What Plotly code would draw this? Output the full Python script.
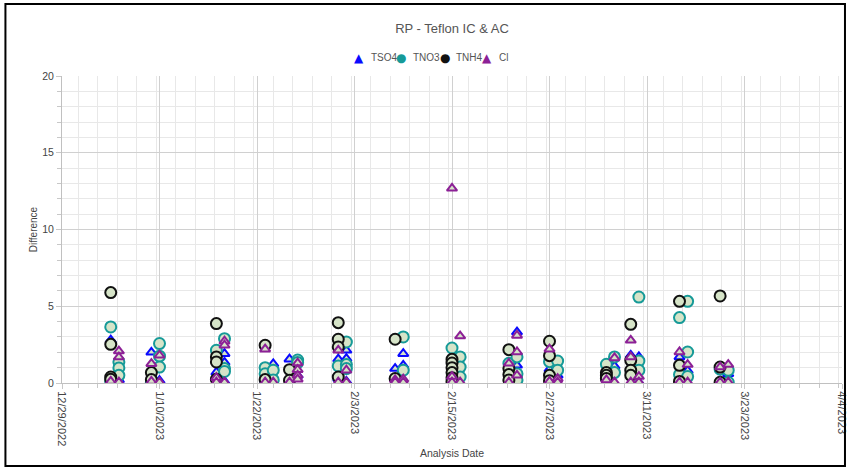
import plotly.graph_objects as go

# ---------------- data ----------------
tso4_dates = ["2023-01-04", "2023-01-04", "2023-01-05", "2023-01-05", "2023-01-09", "2023-01-09",
              "2023-01-10", "2023-01-17", "2023-01-17", "2023-01-18", "2023-01-18", "2023-01-18",
              "2023-01-23", "2023-01-24", "2023-01-24", "2023-01-26", "2023-01-26", "2023-01-27",
              "2023-02-01", "2023-02-01", "2023-02-02", "2023-02-02", "2023-02-02", "2023-02-08",
              "2023-02-09", "2023-02-09", "2023-02-15", "2023-02-16", "2023-02-22", "2023-02-23",
              "2023-02-23", "2023-02-27", "2023-02-28", "2023-03-06", "2023-03-07", "2023-03-09",
              "2023-03-10", "2023-03-10", "2023-03-15", "2023-03-16", "2023-03-20", "2023-03-21"]
tso4_vals = [2.8, 0.1, 1.5, 0.2, 2.0, 0.1,
             0.15, 0.7, 0.3, 1.91, 1.34, 0.1,
             0.2, 1.25, 0.1, 1.55, 0.1, 0.5,
             1.55, 0.3, 2.13, 1.59, 0.1, 0.94,
             1.91, 1.15, 0.3, 0.6, 0.3, 3.32,
             1.15, 0.9, 0.5, 0.3, 1.1, 1.8,
             1.7, 0.05, 1.7, 0.8, 0.1, 0.6]

tno3_dates = ["2023-01-04", "2023-01-04", "2023-01-05", "2023-01-05", "2023-01-05", "2023-01-09",
              "2023-01-10", "2023-01-10", "2023-01-10", "2023-01-17", "2023-01-18", "2023-01-18",
              "2023-01-18", "2023-01-23", "2023-01-23", "2023-01-24", "2023-01-24", "2023-01-27",
              "2023-01-27", "2023-02-01", "2023-02-02", "2023-02-02", "2023-02-02", "2023-02-09",
              "2023-02-09", "2023-02-15", "2023-02-16", "2023-02-16", "2023-02-16", "2023-02-22",
              "2023-02-23", "2023-02-23", "2023-02-23", "2023-02-27", "2023-02-28", "2023-02-28",
              "2023-03-06", "2023-03-07", "2023-03-07", "2023-03-10", "2023-03-10", "2023-03-10",
              "2023-03-15", "2023-03-15", "2023-03-16", "2023-03-16", "2023-03-16", "2023-03-20",
              "2023-03-21", "2023-03-21"]
tno3_vals = [3.65, 0.1, 1.37, 0.98, 0.5, 0.05,
             2.57, 1.75, 1.04, 2.13, 2.89, 0.94,
             0.75, 1.0, 0.6, 0.83, 0.2, 1.5,
             1.33, 1.11, 2.67, 1.2, 0.94, 3.0,
             0.83, 2.28, 1.7, 1.04, 0.39, 1.28,
             1.7, 0.6, 0.2, 1.39, 1.43, 0.83,
             1.22, 1.7, 0.68, 5.6, 1.43, 0.83,
             4.26, 0.55, 5.32, 2.02, 0.42, 0.9,
             0.83, 0.05]

tnh4_dates = ["2023-01-04", "2023-01-04", "2023-01-04", "2023-01-04", "2023-01-09", "2023-01-09",
              "2023-01-17", "2023-01-17", "2023-01-17", "2023-01-17", "2023-01-23", "2023-01-23",
              "2023-01-26", "2023-01-26", "2023-02-01", "2023-02-01", "2023-02-01", "2023-02-01",
              "2023-02-08", "2023-02-08", "2023-02-15", "2023-02-15", "2023-02-15", "2023-02-15",
              "2023-02-15", "2023-02-15", "2023-02-22", "2023-02-22", "2023-02-22", "2023-02-22",
              "2023-02-27", "2023-02-27", "2023-02-27", "2023-02-27", "2023-03-06", "2023-03-06",
              "2023-03-06", "2023-03-09", "2023-03-09", "2023-03-09", "2023-03-09", "2023-03-15",
              "2023-03-15", "2023-03-15", "2023-03-20", "2023-03-20", "2023-03-20"]
tnh4_vals = [5.89, 2.52, 0.39, 0.24, 0.68, 0.22,
             3.87, 1.7, 1.37, 0.24, 2.46, 0.22,
             0.87, 0.18, 3.93, 2.85, 2.35, 0.39,
             2.85, 0.29, 1.54, 1.3, 1.0, 0.68,
             0.35, 0.1, 2.17, 0.94, 0.55, 0.2,
             2.72, 1.78, 0.5, 0.15, 0.68, 0.5,
             0.3, 3.82, 1.48, 0.83, 0.5, 5.32,
             1.15, 0.1, 5.67, 1.04, 0.05]

cl_dates = ["2023-01-04", "2023-01-05", "2023-01-05", "2023-01-05", "2023-01-09", "2023-01-09",
            "2023-01-10", "2023-01-10", "2023-01-17", "2023-01-17", "2023-01-18", "2023-01-18",
            "2023-01-18", "2023-01-23", "2023-01-23", "2023-01-24", "2023-01-26", "2023-01-27",
            "2023-01-27", "2023-01-27", "2023-01-27", "2023-02-01", "2023-02-01", "2023-02-02",
            "2023-02-02", "2023-02-08", "2023-02-08", "2023-02-09", "2023-02-09", "2023-02-15",
            "2023-02-15", "2023-02-15", "2023-02-16", "2023-02-16", "2023-02-22", "2023-02-22",
            "2023-02-23", "2023-02-23", "2023-02-23", "2023-02-27", "2023-02-27", "2023-02-28",
            "2023-02-28", "2023-03-06", "2023-03-07", "2023-03-07", "2023-03-09", "2023-03-09",
            "2023-03-09", "2023-03-10", "2023-03-10", "2023-03-15", "2023-03-15", "2023-03-16",
            "2023-03-16", "2023-03-20", "2023-03-20", "2023-03-21", "2023-03-21"]
cl_vals = [0.1, 2.08, 1.69, 0.05, 1.26, 0.1,
           1.8, 0.05, 0.35, 0.05, 2.72, 2.46,
           0.05, 2.2, 0.05, 0.05, 0.05, 1.3,
           0.87, 0.5, 0.25, 2.13, 0.05, 0.83,
           0.05, 0.2, 0.05, 0.25, 0.05, 12.68,
           0.42, 0.05, 3.06, 0.05, 1.28, 0.05,
           3.1, 2.02, 0.5, 2.2, 0.1, 0.28,
           0.05, 0.2, 1.63, 0.05, 2.78, 1.7,
           0.05, 0.42, 0.05, 2.02, 0.05, 1.2,
           0.05, 1.04, 0.05, 1.2, 0.05]

series_names = ["TSO4", "TNO3", "TNH4", "Cl"]
x_start, x_end = "2022-12-29", "2023-04-04"
DAY_MS = 86400000

# ---------------- styling ----------------
FILL = "#d6e4c8"
BLUE = "#0a0aff"
TEAL = "#169a98"
BLACK = "#111111"
PURPLE = "#8c2096"
FONT = "Liberation Sans, Arial, sans-serif"
TXT = "#555555"
TICK = "#444444"

fig = go.Figure()
specs = [
    (tso4_dates, tso4_vals, "triangle-up", BLUE, 9),
    (tno3_dates, tno3_vals, "circle", TEAL, 11),
    (tnh4_dates, tnh4_vals, "circle", BLACK, 11),
    (cl_dates, cl_vals, "triangle-up", PURPLE, 9),
]
for name, (xs, ys, sym, col, sz) in zip(series_names, specs):
    fig.add_trace(go.Scatter(
        x=xs, y=ys, mode="markers", name=name, showlegend=False,
        marker=dict(symbol=sym, size=sz, color=FILL, line=dict(color=col, width=2)),
    ))

# legend drawn as text (compact like the original)
L, R, T, B = 62, 7, 76, 86
PW, PH = 855 - L - R, 469 - T - B
def px(xpix):
    return (xpix - L) / PW
def py(ypix):
    return (469 - B - ypix) / PH

leg = [("▲", BLUE, 361, 372), ("●", TEAL, 404, 415), ("●", BLACK, 448, 458), ("▲", PURPLE, 490, 501)]
annotations = []
for name, (glyph, col, sx, tx) in zip(series_names, leg):
    annotations.append(dict(x=px(sx), y=py(58), xref="paper", yref="paper", text=glyph,
                            showarrow=False, xanchor="center", yanchor="middle", borderpad=0,
                            font=dict(size=12, color=col, family="DejaVu Sans")))
    annotations.append(dict(x=px(tx), y=py(58), xref="paper", yref="paper", text=name,
                            showarrow=False, xanchor="left", yanchor="middle", borderpad=0,
                            font=dict(size=10, color=TXT, family=FONT)))

shapes = [dict(type="rect", xref="paper", yref="paper", x0=px(5), x1=px(851), y0=py(466), y1=py(4),
               line=dict(color="#000000", width=2), fillcolor="rgba(0,0,0,0)", layer="above")]

fig.update_layout(
    width=855, height=469,
    margin=dict(l=L, r=R, t=T, b=B),
    paper_bgcolor="white", plot_bgcolor="white",
    font=dict(family=FONT, color=TXT, size=10),
    title=dict(text="RP - Teflon IC & AC", x=(452) / 855, xanchor="center",
               y=1 - 28 / 469, yanchor="middle", font=dict(size=13, color=TXT)),
    showlegend=False,
    annotations=annotations,
    shapes=shapes,
    xaxis=dict(
        type="date", range=[x_start, x_end],
        tick0=x_start, dtick=12 * DAY_MS, tickformat="%-m/%-d/%Y", tickangle=90,
        showgrid=True, gridcolor="#d0d0d0", gridwidth=1,
        minor=dict(dtick=2.4 * DAY_MS, showgrid=True, gridcolor="#e8e8e8", ticks="outside",
                   ticklen=4, tickcolor="#c8c8c8"),
        ticks="outside", ticklen=5, tickcolor="#c8c8c8",
        showline=True, linecolor="#c0c0c0", linewidth=1, zeroline=False,
        tickfont=dict(size=11, color=TICK),
        title=dict(text="Analysis Date", font=dict(size=10.5, color=TICK), standoff=4),
    ),
    yaxis=dict(
        range=[0, 20], tick0=0, dtick=5,
        showgrid=True, gridcolor="#d0d0d0", gridwidth=1,
        minor=dict(dtick=1, showgrid=True, gridcolor="#e8e8e8", ticks="outside",
                   ticklen=4, tickcolor="#c8c8c8"),
        ticks="outside", ticklen=5, tickcolor="#c8c8c8",
        showline=True, linecolor="#c0c0c0", linewidth=1, zeroline=False,
        tickfont=dict(size=10.5, color=TICK),
        title=dict(text="Difference", font=dict(size=10, color=TICK), standoff=2),
    ),
)

fig.write_html("out.html", config={"displayModeBar": False},
               post_script="document.body.style.margin='0px';")
